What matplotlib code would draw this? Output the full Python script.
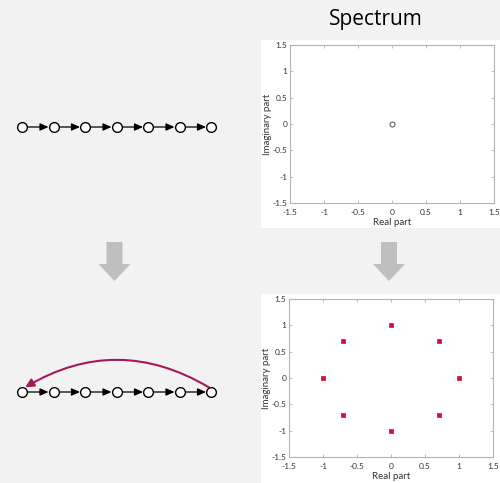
import numpy as np
import matplotlib
matplotlib.use("Agg")
import matplotlib.pyplot as plt
from matplotlib.patches import Rectangle, FancyArrow, FancyArrowPatch

plt.rcParams['font.family'] = ['Lato', 'DejaVu Sans']

# chain graph: 7 nodes, forward edges, plus one feedback edge in the lower graph
n_nodes = 7
chain_edges = [(0, 1), (1, 2), (2, 3), (3, 4), (4, 5), (5, 6)]
feedback_edge = (6, 0)

# eigenvalues of the open chain (all zero) and of the closed cycle
spec_top_re = [0.0]
spec_top_im = [0.0]
spec_bot_re = [1.0, 0.7071, 0.0, -0.7071, -1.0, -0.7071, 0.0, 0.7071]
spec_bot_im = [0.0, 0.7071, 1.0, 0.7071, 0.0, -0.7071, -1.0, -0.7071]

ticks = [-1.5, -1, -0.5, 0, 0.5, 1, 1.5]
tick_labels = ['-1.5', '-1', '-0.5', '0', '0.5', '1', '1.5']

W, H = 500, 483
fig = plt.figure(figsize=(W / 100, H / 100), dpi=100, facecolor='#f2f2f2')

bg = fig.add_axes([0, 0, 1, 1])
bg.set_xlim(0, W)
bg.set_ylim(H, 0)
bg.axis('off')

# white panels behind the spectra
bg.add_patch(Rectangle((261, 40), 239, 188, facecolor='white', edgecolor='none'))
bg.add_patch(Rectangle((261, 294), 239, 189, facecolor='white', edgecolor='none'))

bg.text(376, 19, 'Spectrum', ha='center', va='center', fontsize=15,
        family=['Open Sans', 'DejaVu Sans'], color='black')

# grey down arrows
for cx in [114.5, 389]:
    bg.add_patch(FancyArrow(cx, 242, 0, 39, width=16, head_width=32, head_length=17,
                            length_includes_head=True, facecolor='#bfbfbf', edgecolor='none'))

chain_x0, chain_dx = 22, 31.5
node_r = 3.6  # points


def node_x(i):
    return chain_x0 + i * chain_dx


def draw_chain(y, feedback=None):
    for a, b in chain_edges:
        bg.annotate('', xy=(node_x(b), y), xytext=(node_x(a), y),
                    arrowprops=dict(arrowstyle='-|>,head_length=0.5,head_width=0.22',
                                    color='black', lw=0.9, shrinkA=node_r, shrinkB=node_r))
    if feedback is not None:
        a, b = feedback
        arc = FancyArrowPatch((node_x(a) - 1, y - 4), (node_x(b) + 2, y - 4),
                              connectionstyle='arc3,rad=0.3',
                              arrowstyle='-|>,head_length=5,head_width=2.5',
                              color='#a3195b', lw=1.5, shrinkA=1, shrinkB=1,
                              mutation_scale=1)
        bg.add_patch(arc)
    xs = [node_x(i) for i in range(n_nodes)]
    bg.plot(xs, [y] * n_nodes, ls='none', marker='o', ms=7, mfc='white',
            mec='black', mew=1.0, zorder=5)


draw_chain(127)
draw_chain(392, feedback_edge)


def spectrum_axes(rect):
    ax = fig.add_axes(rect)
    ax.set_xlim(-1.5, 1.5)
    ax.set_ylim(-1.5, 1.5)
    ax.set_xticks(ticks)
    ax.set_xticklabels(tick_labels)
    ax.set_yticks(ticks)
    ax.set_yticklabels(tick_labels)
    for s in ax.spines.values():
        s.set_color('#b3b3b3')
        s.set_linewidth(0.8)
    ax.tick_params(direction='in', length=2, width=0.6, color='#b3b3b3',
                   labelsize=6, labelcolor='#333333', pad=2,
                   top=True, right=True)
    ax.tick_params(axis='x', pad=4)
    ax.set_xlabel('Real part', fontsize=7, color='#333333', labelpad=2)
    ax.set_ylabel('Imaginary part', fontsize=7, color='#333333', labelpad=0)
    return ax


def rect_px(l, t, r, b):
    return [l / W, (H - b) / H, (r - l) / W, (b - t) / H]


ax1 = spectrum_axes(rect_px(290, 45, 494, 203))
ax1.plot(spec_top_re, spec_top_im, ls='none', marker='o', ms=3.6, mfc='none',
         mec='#666666', mew=0.8)

ax2 = spectrum_axes(rect_px(289, 299, 493, 457))
ax2.plot(spec_bot_re, spec_bot_im, ls='none', marker='s', ms=2.8, mfc='#d0103a',
         mec='#d0103a', mew=0.5)

fig.savefig('out.png', dpi=100, facecolor=fig.get_facecolor())
